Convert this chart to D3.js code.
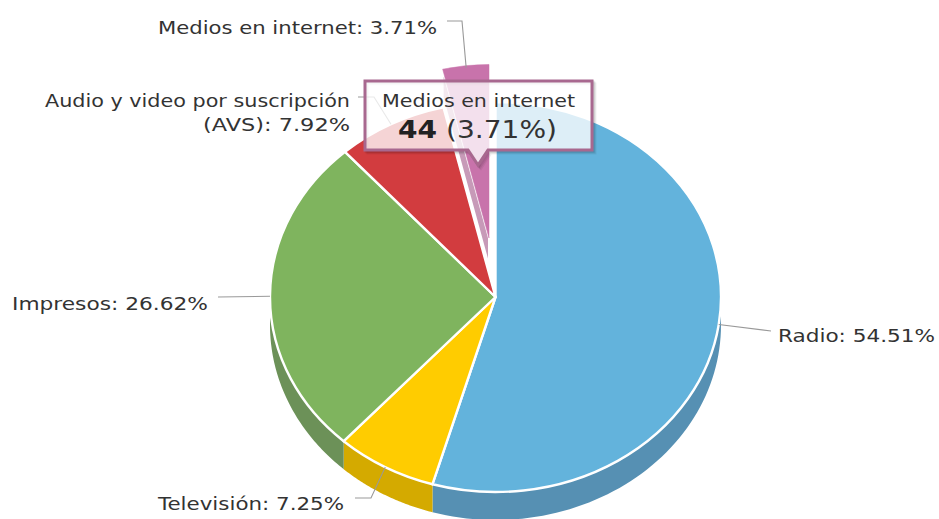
<!DOCTYPE html>
<html><head><meta charset="utf-8">
<script src="https://cdn.jsdelivr.net/npm/d3@7/dist/d3.min.js"></script>
<style>html,body{margin:0;padding:0;background:#fff}svg{display:block}text{font-family:"DejaVu Sans",sans-serif}</style>
</head><body><svg id="c" width="939" height="519"></svg>
<script>
const categories = ["Radio","Televisión","Impresos","Audio y video por suscripción (AVS)","Medios en internet"];
const percents = [54.51,7.25,26.62,7.92,3.71];
const tooltipCount = 44;
const topColors = ["#63b3dc","#ffcc00","#7fb45e","#d23c3f","#c873ab"];
const sideColors = ["#5690b3","#d4aa00","#6c9158","#a83033","#a05c89"];

const W=939,H=519,cx=495.5,cy=297,rx=225.5,ry=195,depth=28;
const svg=d3.select("#c");
const pie=d3.pie().sort(null)(percents);
const arc=d3.arc().innerRadius(0).outerRadius(rx);
const px=(a,r=1)=>cx+rx*r*Math.sin(a), py=(a,r=1)=>cy-ry*r*Math.cos(a);
const scaleY=ry/rx;
const SL=4, slDX=-6.5, slDY=-59, slR=0.89;

function face(g,d,i,tx,ty,r){
  return g.append("path").attr("d",arc(d))
   .attr("transform",`translate(${tx},${ty}) scale(${r},${r*scaleY})`)
   .attr("fill",topColors[i]).attr("stroke","#fff").attr("stroke-width",2.4)
   .attr("stroke-linejoin","round").style("vector-effect","non-scaling-stroke");
}
const gPie=svg.append("g");
{
  const d=pie[SL];
  const ax=cx+slDX, ay=cy+slDY, a=d.startAngle, rr=slR;
  const ex=ax+rx*rr*Math.sin(a), ey=ay-ry*rr*Math.cos(a);
  gPie.append("path").attr("d",d3.line()([[ax,ay],[ex,ey],[ex,ey+depth],[ax,ay+depth]])+"Z")
    .attr("fill","#c79ab8").attr("stroke","#fff").attr("stroke-width",2);
  face(gPie,d,SL,ax,ay,rr).attr("stroke-width",0.5).attr("stroke",topColors[SL]);
}
const line=d3.line();
pie.forEach((d,i)=>{
  if(i===SL) return;
  const a0=Math.max(d.startAngle,Math.PI/2), a1=Math.min(d.endAngle,Math.PI*1.5);
  if(a1<=a0) return;
  const s=d3.range(0,61).map(k=>a0+(a1-a0)*k/60);
  const pts=s.map(a=>[px(a),py(a)]).concat(s.slice().reverse().map(a=>[px(a),py(a)+depth]));
  gPie.append("path").attr("d",line(pts)+"Z").attr("fill",sideColors[i]);
});
pie.forEach((d,i)=>{ if(i!==SL) face(gPie,d,i,cx,cy,1); });

const labelLayout=[
 {lines:[`${categories[0]}: ${percents[0].toFixed(2)}%`],w:[157],x:778,y:342,via:[[771,331]]},
 {lines:[`${categories[1]}: ${percents[1].toFixed(2)}%`],w:[186],x:158,y:510,via:[[355,498],[371,498]]},
 {lines:[`${categories[2]}: ${percents[2].toFixed(2)}%`],w:[196],x:12,y:310,via:[[218,297]]},
 {lines:["Audio y video por suscripción",`(AVS): ${percents[3].toFixed(2)}%`],w:[305,147],x:[45,203],y:107,via:[[358,97],[374,97]]},
 {lines:[`${categories[4]}: ${percents[4].toFixed(2)}%`],w:[279],x:158,y:34,via:[[447,21],[462,21]]}
];
const gLab=svg.append("g");
labelLayout.forEach((l,i)=>{
  const d=pie[i], m=(d.startAngle+d.endAngle)/2;
  const end=i===SL?[cx+slDX+rx*slR*Math.sin(m)+.5, cy+slDY-ry*slR*Math.cos(m)+2]:[px(m),py(m)];
  gLab.append("path").attr("d",line([...l.via,end])).attr("fill","none").attr("stroke","#999").attr("stroke-width",1.1);
  l.lines.forEach((t,k)=>gLab.append("text").attr("x",Array.isArray(l.x)?l.x[k]:l.x).attr("y",l.y+k*24)
     .attr("textLength",l.w[k]).attr("lengthAdjust","spacingAndGlyphs")
     .attr("font-size",18.5).attr("fill","#333").text(t));
});

const box={l:365,r:592,t:81,b:150,tip:478,tipY:165,nw:10};
function tipPath(dx,dy){
  const p=d3.path();
  p.moveTo(box.l+dx,box.t+dy);p.lineTo(box.r+dx,box.t+dy);p.lineTo(box.r+dx,box.b+dy);
  p.lineTo(box.tip+box.nw+dx,box.b+dy);p.lineTo(box.tip+dx,box.tipY+dy);p.lineTo(box.tip-box.nw+dx,box.b+dy);
  p.lineTo(box.l+dx,box.b+dy);p.closePath();return p.toString();
}
const gTip=svg.append("g");
[[3,3,.06],[2,2,.08],[1,1,.1]].forEach(s=>gTip.append("path").attr("d",tipPath(s[0],s[1])).attr("fill","none").attr("stroke","#000").attr("stroke-opacity",s[2]).attr("stroke-width",3));
gTip.append("path").attr("d",tipPath(0,0)).attr("fill","#fff").attr("fill-opacity",.78).attr("stroke","#a8688f").attr("stroke-width",3);
gTip.append("text").attr("x",382).attr("y",107).attr("textLength",193).attr("lengthAdjust","spacingAndGlyphs").attr("font-size",18.5).attr("fill","#333").text(categories[SL]);
const t2=gTip.append("text").attr("x",398).attr("y",138).attr("textLength",159).attr("lengthAdjust","spacingAndGlyphs").attr("font-size",25).attr("fill","#333");
t2.append("tspan").attr("font-weight","bold").attr("fill","#222").text(tooltipCount);
t2.append("tspan").text(` (${percents[SL].toFixed(2)}%)`);
</script></body></html>
